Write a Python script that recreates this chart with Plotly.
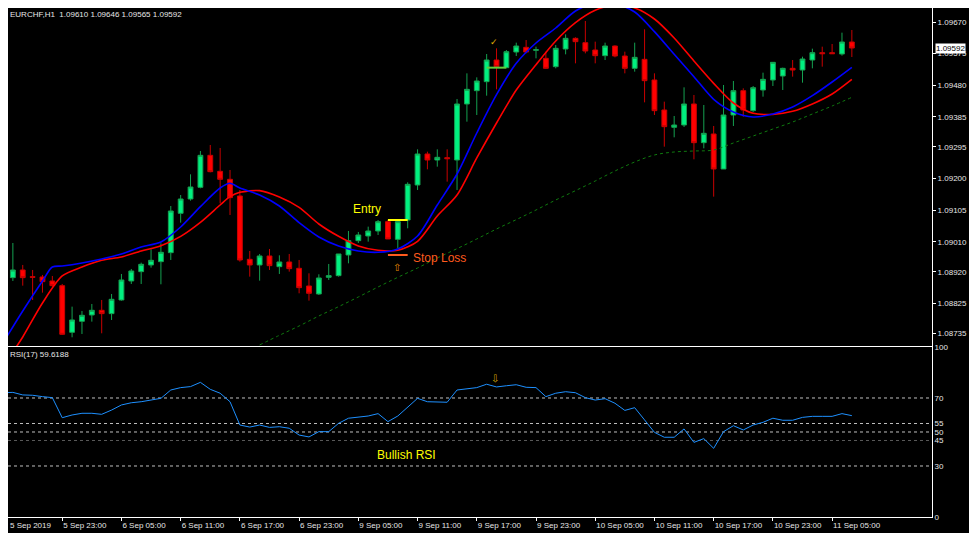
import plotly.graph_objects as go

# EURCHF H1 candles (5 Sep 17:00 -> 11 Sep 07:00)
opens = [1.08914, 1.08903, 1.08926, 1.08906, 1.08905, 1.08893, 1.08879, 1.08739, 1.08772, 1.08791,
         1.08805, 1.08795, 1.08836, 1.08893, 1.08921, 1.08941, 1.08951, 1.08978, 1.09096, 1.09139,
         1.09174, 1.09270, 1.09222, 1.09198, 1.09148, 1.08958, 1.08941, 1.08968, 1.08936, 1.08950,
         1.08931, 1.08878, 1.08854, 1.08904, 1.08909, 1.08971, 1.09014, 1.09028, 1.09043, 1.09071,
         1.09018, 1.09076, 1.09181, 1.09274, 1.09256, 1.09263, 1.09256, 1.09424, 1.09464, 1.09491,
         1.09556, 1.09533, 1.09580, 1.09594, 1.09585, 1.09561, 1.09536, 1.09589, 1.09621, 1.09608,
         1.09586, 1.09569, 1.09598, 1.09568, 1.09531, 1.09558, 1.09496, 1.09406, 1.09354, 1.09361,
         1.09424, 1.09308, 1.09334, 1.09229, 1.09391, 1.09464, 1.09404, 1.09466, 1.09496, 1.09508,
         1.09531, 1.09526, 1.09556, 1.09578, 1.09578, 1.09574, 1.09610]
highs = [1.09124, 1.09007, 1.08941, 1.08926, 1.08911, 1.08908, 1.08884, 1.08816, 1.08803, 1.08824,
         1.08836, 1.08854, 1.08914, 1.08929, 1.08948, 1.08988, 1.09006, 1.09118, 1.09151, 1.09213,
         1.09283, 1.09301, 1.09292, 1.09226, 1.09166, 1.08983, 1.08974, 1.08989, 1.08970, 1.08974,
         1.08956, 1.08916, 1.08913, 1.08944, 1.08974, 1.09043, 1.09040, 1.09056, 1.09076, 1.09076,
         1.09078, 1.09189, 1.09288, 1.09281, 1.09288, 1.09288, 1.09439, 1.09516, 1.09504, 1.09574,
         1.09591, 1.09586, 1.09608, 1.09616, 1.09596, 1.09581, 1.09601, 1.09633, 1.09624, 1.09673,
         1.09611, 1.09608, 1.09600, 1.09581, 1.09608, 1.09648, 1.09516, 1.09431, 1.09388, 1.09474,
         1.09451, 1.09421, 1.09358, 1.09481, 1.09493, 1.09471, 1.09478, 1.09518, 1.09549, 1.09533,
         1.09556, 1.09566, 1.09590, 1.09596, 1.09604, 1.09638, 1.09646]
lows = [1.08845, 1.08893, 1.08879, 1.08836, 1.08858, 1.08876, 1.08731, 1.08724, 1.08734, 1.08771,
        1.08736, 1.08776, 1.08834, 1.08884, 1.08884, 1.08933, 1.08883, 1.08956, 1.09068, 1.09134,
        1.09171, 1.09219, 1.09126, 1.09091, 1.08951, 1.08906, 1.08894, 1.08926, 1.08914, 1.08921,
        1.08856, 1.08834, 1.08851, 1.08896, 1.08906, 1.08946, 1.09007, 1.09011, 1.09031, 1.09019,
        1.08991, 1.09051, 1.09166, 1.09228, 1.09236, 1.09191, 1.09166, 1.09371, 1.09391, 1.09449,
        1.09468, 1.09532, 1.09568, 1.09576, 1.09561, 1.09529, 1.09531, 1.09573, 1.09546, 1.09576,
        1.09546, 1.09556, 1.09564, 1.09516, 1.09521, 1.09429, 1.09391, 1.09296, 1.09324, 1.09355,
        1.09258, 1.09291, 1.09146, 1.09229, 1.09358, 1.09386, 1.09400, 1.09446, 1.09478, 1.09466,
        1.09506, 1.09488, 1.09531, 1.09536, 1.09574, 1.09569, 1.09565]
closes = [1.08899, 1.08926, 1.08903, 1.08904, 1.08891, 1.08879, 1.08733, 1.08776, 1.08790, 1.08805,
          1.08795, 1.08838, 1.08896, 1.08923, 1.08943, 1.08955, 1.08979, 1.09103, 1.09139, 1.09175,
          1.09270, 1.09221, 1.09198, 1.09143, 1.08956, 1.08941, 1.08968, 1.08939, 1.08950, 1.08930,
          1.08873, 1.08856, 1.08902, 1.08909, 1.08974, 1.09014, 1.09031, 1.09043, 1.09071, 1.09019,
          1.09071, 1.09183, 1.09274, 1.09256, 1.09264, 1.09260, 1.09424, 1.09468, 1.09493, 1.09556,
          1.09536, 1.09581, 1.09598, 1.09580, 1.09587, 1.09531, 1.09591, 1.09621, 1.09611, 1.09583,
          1.09569, 1.09598, 1.09568, 1.09531, 1.09564, 1.09494, 1.09404, 1.09356, 1.09361, 1.09424,
          1.09308, 1.09336, 1.09229, 1.09391, 1.09464, 1.09406, 1.09473, 1.09498, 1.09549, 1.09531,
          1.09526, 1.09559, 1.09578, 1.09575, 1.09575, 1.09610, 1.09592]
bars = list(range(len(closes)))

# moving averages (read every couple of bars)
blue_bars = [0, 2, 4, 5, 6, 8, 10, 12, 14, 16, 18, 20, 22, 23, 24, 26, 28, 30, 32, 34, 36, 38, 40,
             42, 44, 46, 48, 50, 52, 54, 56, 58, 60, 62, 64, 66, 68, 70, 72, 74, 76, 78, 80, 82, 84, 86]
blue_ma = [1.08707, 1.08803, 1.08893, 1.08935, 1.08938, 1.08947, 1.08959, 1.08974, 1.08995, 1.09010,
           1.09055, 1.09116, 1.09172, 1.09186, 1.09172, 1.09151, 1.09118, 1.09068, 1.09025, 1.08998,
           1.08983, 1.08979, 1.08989, 1.09028, 1.09121, 1.09214, 1.09337, 1.09452, 1.09546, 1.09607,
           1.09652, 1.09703, 1.09726, 1.09724, 1.09700, 1.09641, 1.09573, 1.09506, 1.09438, 1.09400,
           1.09385, 1.09394, 1.09415, 1.09449, 1.09490, 1.09534]
red_bars = [1, 2, 4, 6, 8, 10, 12, 14, 16, 18, 20, 22, 23, 24, 26, 28, 30, 32, 34, 36, 38, 40,
            42, 44, 46, 48, 50, 52, 54, 56, 58, 60, 62, 64, 66, 68, 70, 72, 74, 76, 78, 80, 82, 84, 86]
red_ma = [1.08680, 1.08725, 1.08827, 1.08908, 1.08935, 1.08955, 1.08965, 1.08983, 1.08999, 1.09027,
          1.09069, 1.09121, 1.09146, 1.09159, 1.09164, 1.09145, 1.09114, 1.09064, 1.09027, 1.08998,
          1.08985, 1.08985, 1.09012, 1.09088, 1.09151, 1.09262, 1.09367, 1.09466, 1.09542, 1.09613,
          1.09668, 1.09705, 1.09721, 1.09712, 1.09679, 1.09622, 1.09553, 1.09486, 1.09427, 1.09396,
          1.09393, 1.09402, 1.09424, 1.09454, 1.09498]
green_bars = [26, 28, 30, 32, 34, 36, 38, 40, 42, 44, 46, 48, 50, 52, 54, 56,
              58, 60, 62, 64, 66, 68, 70, 72, 74, 76, 78, 80, 82, 84, 86]
green_ma = [1.08701, 1.08730, 1.08758, 1.08788, 1.08816, 1.08845, 1.08875, 1.08904, 1.08932, 1.08962,
            1.08990, 1.09019, 1.09049, 1.09077, 1.09106, 1.09136, 1.09164, 1.09193, 1.09223, 1.09250,
            1.09271, 1.09280, 1.09283, 1.09286, 1.09307, 1.09328, 1.09349, 1.09370, 1.09394, 1.09418,
            1.09444]

# RSI(17)
rsi = [73.1, 73.3, 71.8, 71.6, 70.8, 70.2, 58.4, 60.0, 61.0, 61.0,
       60.4, 62.9, 65.9, 67.2, 67.8, 68.6, 69.8, 74.7, 76.1, 76.7,
       79.2, 75.1, 72.8, 67.8, 54.1, 52.9, 54.1, 52.7, 53.1, 52.2,
       48.2, 47.1, 50.2, 50.2, 55.1, 58.1, 58.6, 59.4, 60.8, 56.1,
       59.4, 64.9, 69.8, 67.8, 67.8, 67.5, 74.7, 75.3, 76.1, 78.1,
       76.5, 77.2, 77.8, 76.3, 76.1, 70.8, 72.8, 73.7, 73.1, 70.2,
       68.8, 69.6, 66.9, 62.7, 64.3, 57.1, 49.8, 46.9, 46.9, 51.8,
       43.9, 46.1, 40.4, 50.2, 53.7, 51.2, 54.1, 55.7, 58.1, 56.9,
       56.9, 58.6, 59.2, 59.2, 59.2, 60.8, 59.6188]
rsi_levels = [70, 55, 50, 45, 30]

# trade markers
entry_bars = [39, 41]
entry_price = 1.09076
stop_price = 1.08971
exit_bars = [49, 51]
exit_price = 1.09533

# axes
time_ticks = [0, 6, 12, 18, 24, 30, 36, 42, 48, 54, 60, 66, 72, 78, 84]
time_labels = ["5 Sep 2019", "5 Sep 23:00", "6 Sep 05:00", "6 Sep 11:00", "6 Sep 17:00",
               "6 Sep 23:00", "9 Sep 05:00", "9 Sep 11:00", "9 Sep 17:00", "9 Sep 23:00",
               "10 Sep 05:00", "10 Sep 11:00", "10 Sep 17:00", "10 Sep 23:00", "11 Sep 05:00"]
price_ticks = [1.09670, 1.09575, 1.09480, 1.09385, 1.09295, 1.09200,
               1.09105, 1.09010, 1.08920, 1.08825, 1.08735]
rsi_ticks = [100, 70, 55, 50, 45, 30, 0]

fig = go.Figure()

fig.add_trace(go.Candlestick(
    x=bars, open=opens, high=highs, low=lows, close=closes,
    increasing=dict(line=dict(color="#14a050", width=1), fillcolor="#00f080"),
    decreasing=dict(line=dict(color="#c80000", width=1), fillcolor="#ff0000"),
    whiskerwidth=0, xaxis="x", yaxis="y", hoverinfo="skip"
))

fig.add_trace(go.Scatter(x=green_bars, y=green_ma, mode="lines", xaxis="x", yaxis="y",
                         line=dict(color="#0f7a0f", width=1, dash="dot", shape="spline")))
fig.add_trace(go.Scatter(x=red_bars, y=red_ma, mode="lines", xaxis="x", yaxis="y",
                         line=dict(color="#ff0000", width=1.6, shape="spline", smoothing=0.8)))
fig.add_trace(go.Scatter(x=blue_bars, y=blue_ma, mode="lines", xaxis="x", yaxis="y",
                         line=dict(color="#0000ff", width=1.6, shape="spline", smoothing=0.8)))

# entry / stop / exit lines
fig.add_trace(go.Scatter(x=entry_bars, y=[entry_price] * 2, mode="lines", xaxis="x", yaxis="y",
                         line=dict(color="#ffff00", width=2)))
fig.add_trace(go.Scatter(x=entry_bars, y=[stop_price] * 2, mode="lines", xaxis="x", yaxis="y",
                         line=dict(color="#ff5a1e", width=2)))
fig.add_trace(go.Scatter(x=exit_bars, y=[exit_price] * 2, mode="lines", xaxis="x", yaxis="y",
                         line=dict(color="#5fcf3a", width=2)))

# RSI
fig.add_trace(go.Scatter(x=bars, y=rsi, mode="lines", xaxis="x2", yaxis="y2",
                         line=dict(color="#1e90ff", width=1)))

for lv in rsi_levels:
    fig.add_shape(type="line", xref="paper", x0=0, x1=1, yref="y2", y0=lv, y1=lv,
                  line=dict(color="#5a5a5a" if lv == 45 else "#bfbfbf", width=1, dash="dot"),
                  layer="below")

axis_common = dict(showgrid=False, zeroline=False, showline=True, linecolor="white",
                   linewidth=1, mirror=True)

# the page puts the figure 8px in from the corner, so the figure is 8px smaller
x_range = [0.507, 94.12]
fig.update_layout(
    width=969, height=525,
    margin=dict(l=0, r=45, t=0, b=16),
    paper_bgcolor="black", plot_bgcolor="black",
    font=dict(family="Liberation Sans", size=8, color="#e6e6e6"),
    showlegend=False,
    xaxis=dict(domain=[0, 1], anchor="y", range=x_range, showticklabels=False,
               ticks="", rangeslider=dict(visible=False), **axis_common),
    xaxis2=dict(domain=[0, 1], anchor="y2", matches="x", range=x_range,
                tickvals=time_ticks, ticktext=time_labels, ticks="outside", ticklen=3,
                tickcolor="white", ticklabelposition="outside right", automargin=False,
                **axis_common),
    yaxis=dict(domain=[0.336, 1], anchor="x", side="right", range=[1.08698, 1.09712],
               tickvals=price_ticks, ticktext=[f"{v:.5f}" for v in price_ticks],
               ticks="outside", ticklen=3, tickcolor="white", automargin=False, **axis_common),
    yaxis2=dict(domain=[0, 0.334], anchor="x2", side="right", range=[0, 100],
                tickvals=rsi_ticks, ticktext=[str(v) for v in rsi_ticks], ticks="",
                automargin=False, **axis_common),
)

# first time label sits on the clipped first bar
fig.add_annotation(xref="paper", yref="paper", x=0, y=0, xanchor="left", yanchor="top",
                   xshift=0, yshift=-2, showarrow=False, text=time_labels[0])

# header texts
fig.add_annotation(xref="paper", yref="paper", x=0, y=1, xanchor="left", yanchor="top",
                   xshift=0, yshift=0, showarrow=False,
                   text=f"EURCHF,H1  {opens[-1]:.5f} {highs[-1]:.5f} {lows[-1]:.5f} {closes[-1]:.5f}")
fig.add_annotation(xref="paper", yref="paper", x=0, y=0.334, xanchor="left", yanchor="top",
                   xshift=0, yshift=-1, showarrow=False, text=f"RSI(17) {rsi[-1]:.4f}")

# current price box on the axis
fig.add_annotation(xref="paper", yref="y", x=1, y=closes[-1], xanchor="left", xshift=3,
                   showarrow=False, text=f"{closes[-1]:.5f}", bgcolor="white",
                   font=dict(color="black", size=8), borderpad=0)

# chart notes
fig.add_annotation(xref="x", yref="y", x=36.9, y=1.09109, showarrow=False, text="Entry",
                   font=dict(color="#ffff00", size=12))
fig.add_annotation(xref="x", yref="y", x=41.3, y=1.08962, xanchor="left", showarrow=False,
                   text="Stop Loss", font=dict(color="#ff5a1e", size=12))
fig.add_annotation(xref="x2", yref="y2", x=40.9, y=36.5, showarrow=False, text="Bullish RSI",
                   font=dict(color="#ffff00", size=12))
fig.add_annotation(xref="x", yref="y", x=39.9, y=1.08932, showarrow=False, text="⇧",
                   font=dict(family="DejaVu Sans", color="#e08a00", size=10))
fig.add_annotation(xref="x2", yref="y2", x=49.8, y=81.2, showarrow=False, text="⇩",
                   font=dict(family="DejaVu Sans", color="#d4a800", size=10))
fig.add_annotation(xref="x", yref="y", x=49.7, y=1.09610, showarrow=False, text="✓",
                   font=dict(family="DejaVu Sans", color="#e0b000", size=9))

fig.write_html("out.html")
